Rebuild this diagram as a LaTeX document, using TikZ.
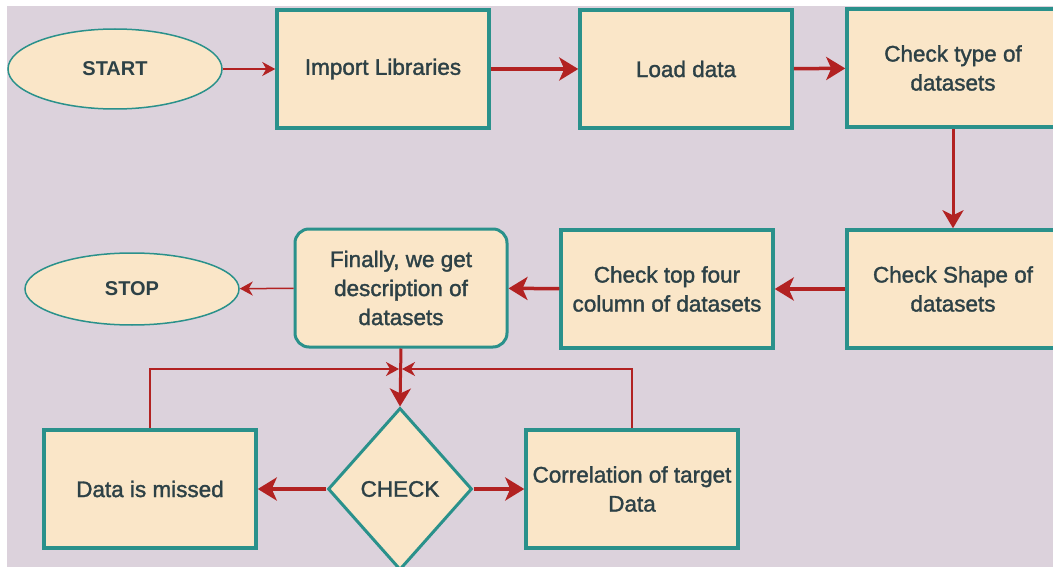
\documentclass[tikz,border=0pt]{standalone}
\usepackage{fontspec}
\setmainfont{Liberation Sans}
\newfontfamily\boxfont{Liberation Sans}[FakeBold=1.5]
\usetikzlibrary{shapes.geometric,arrows.meta}
\definecolor{bgc}{HTML}{DCD2DC}
\definecolor{fillc}{HTML}{FAE6C8}
\definecolor{tealc}{HTML}{2A918B}
\definecolor{redc}{HTML}{B22222}
\definecolor{txtc}{HTML}{2D4146}
\tikzset{
  txt/.style={text=txtc,font=\boxfont\bfseries\fontsize{22.5}{29}\selectfont,align=center,inner sep=0pt},
  procbox/.style={txt,rectangle,draw=tealc,fill=fillc,line width=3.5pt,minimum width=212pt,minimum height=118pt},
  roundbox/.style={procbox,rounded corners=14pt,line width=3pt},
  term/.style={txt,ellipse,draw=tealc,fill=fillc,line width=1.5pt,font=\fontsize{20}{29}\selectfont\bfseries},
  decide/.style={txt,diamond,draw=tealc,fill=fillc,line width=3pt,minimum width=144pt,minimum height=162pt},
  thickarrow/.style={draw=redc,line width=3.5pt,-{Stealth[length=19pt,width=23pt,inset=5pt]}},
  midarrow/.style={draw=redc,line width=3pt,-{Stealth[length=18pt,width=21pt,inset=5pt]}},
  thinarrow/.style={draw=redc,line width=1.5pt,-{Stealth[length=13pt,width=14pt,inset=4pt]}},
}
\begin{document}
\begin{tikzpicture}[x=1pt,y=-1pt]
\useasboundingbox (0,0) rectangle (1053,567);
\fill[white] (0,0) rectangle (1053,567);
\fill[bgc] (7,6) rectangle (1053,567);

\node[term,minimum width=214pt,minimum height=80pt] (start) at (115,69) {START};
\node[procbox] (imp) at (383,69) {\mdseries Import Libraries};
\node[procbox] (load) at (686,69) {\mdseries Load data};
\node[procbox] (type) at (953,68) {\mdseries Check type of\\\mdseries datasets};
\node[procbox] (shape) at (953,289) {\mdseries Check Shape of\\\mdseries datasets};
\node[procbox] (top) at (667,289) {\mdseries Check top four\\\mdseries column of datasets};
\node[roundbox] (fin) at (401,288) {\mdseries Finally, we get\\\mdseries description of\\\mdseries datasets};
\node[term,minimum width=214pt,minimum height=72pt] (stop) at (132,289) {STOP};
\node[decide] (check) at (400,489) {\mdseries CHECK};
\node[procbox] (miss) at (150,489) {\mdseries Data is missed};
\node[procbox] (corr) at (632,489) {\mdseries Correlation of target\\\mdseries Data};

\coordinate (jl) at (399,369);
\coordinate (jr) at (402,369);

\draw[thinarrow] (start) -- (imp);
\draw[thickarrow] (imp) -- (load);
\draw[thickarrow] (load) -- (type);
\draw[midarrow] (type) -- (shape);
\draw[thickarrow] (shape) -- (top);
\draw[thickarrow] (top) -- (fin);
\draw[thinarrow] (fin) -- (stop);
\draw[midarrow] (fin.south) -- (check.north);
\draw[thinarrow] (miss.north) |- (jl);
\draw[thinarrow] (corr.north) |- (jr);
\draw[thickarrow] (check) -- (miss);
\draw[thickarrow] (check) -- (corr);
\end{tikzpicture}
\end{document}
